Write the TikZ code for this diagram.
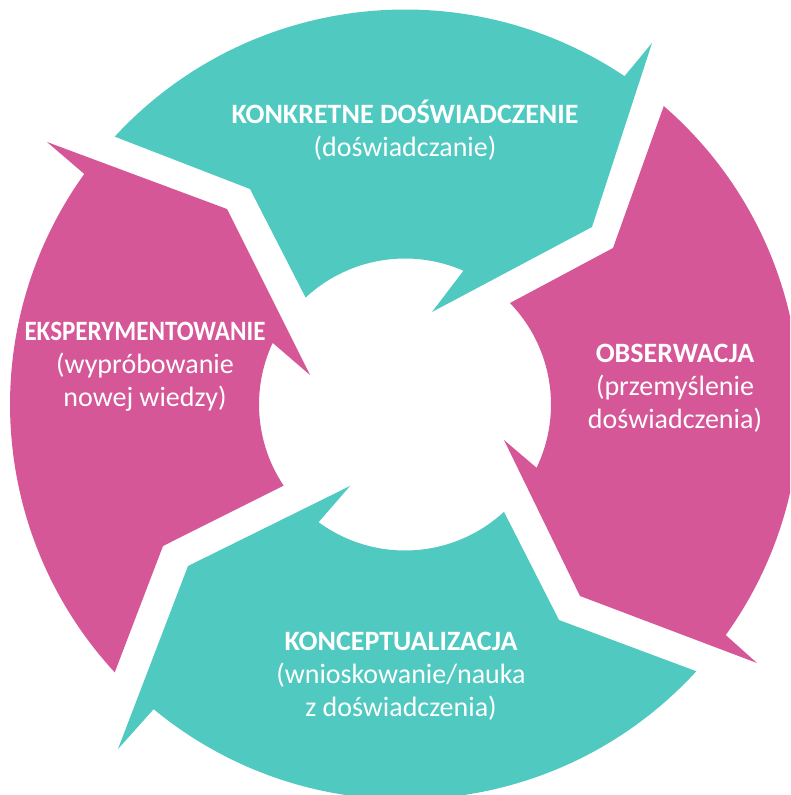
\documentclass[tikz,border=0pt]{standalone}
\usepackage{fontspec}
\usepackage{graphicx}
\setmainfont{Carlito}
\usetikzlibrary{calc}
\definecolor{tealseg}{RGB}{80,201,193}
\definecolor{magseg}{RGB}{213,87,151}
\begin{document}
\begin{tikzpicture}[x=1pt,y=1pt,
  tealpart/.style={fill=tealseg, draw=none},
  magpart/.style={fill=magseg, draw=none},
  lbl/.style={text=white, inner sep=0pt, anchor=base, font=\fontsize{28}{33}\selectfont}]
\useasboundingbox (0,0) rectangle (790,-795);
\clip (0,0) rectangle (790,-795);
\coordinate (C) at (405,-404.5);
% top (teal)
\path[tealpart] ([shift={(C)}]56.23:395) arc[start angle=56.23, end angle=137.3, radius=395]
  -- (250,-189) -- ([shift={(C)}]132.9:146) arc[start angle=132.9, end angle=66.4, radius=146]
  -- (432,-312) -- (592,-227) -- (652,-43) -- cycle;
% right (magenta)
\path[magpart] ([shift={(C)}]-35.71:395) arc[start angle=-35.71, end angle=49.07, radius=395]
  -- (613,-248) -- ([shift={(C)}]44.03:146) arc[start angle=44.03, end angle=-25.69, radius=146]
  -- (504,-440) -- (580,-596) -- (757,-663) -- cycle;
% bottom (teal)
\path[tealpart] ([shift={(C)}]-129.52:395) arc[start angle=-129.52, end angle=-42.48, radius=395]
  -- (559,-620) -- ([shift={(C)}]-47.33:146) arc[start angle=-47.33, end angle=-126.28, radius=146]
  -- (350,-486) -- (188,-566) -- (118,-749) -- cycle;
% left (magenta)
\path[magpart] ([shift={(C)}]144.29:395) arc[start angle=144.29, end angle=222.70, radius=395]
  -- (163,-546) -- ([shift={(C)}]213.74:146) arc[start angle=213.74, end angle=155.02, radius=146]
  -- (310,-375) -- (227,-209) -- (47,-142) -- cycle;
% labels
\node[lbl] (ce) at (405,-123) {\begin{tabular}[t]{@{}c@{}}\textbf{KONKRETNE DOŚWIADCZENIE}\\(doświadczanie)\end{tabular}};
\node[lbl] (ob) at (675,-362) {\begin{tabular}[t]{@{}c@{}}\textbf{OBSERWACJA}\\(przemyślenie\\doświadczenia)\end{tabular}};
\node[lbl] (ek) at (145,-340) {\begin{tabular}[t]{@{}c@{}}\scalebox{0.895}[1]{\textbf{EKSPERYMENTOWANIE}}\\(wypróbowanie\\nowej wiedzy)\end{tabular}};
\node[lbl] (ko) at (401,-650) {\begin{tabular}[t]{@{}c@{}}\textbf{KONCEPTUALIZACJA}\\(wnioskowanie/nauka\\z doświadczenia)\end{tabular}};
\end{tikzpicture}
\end{document}
